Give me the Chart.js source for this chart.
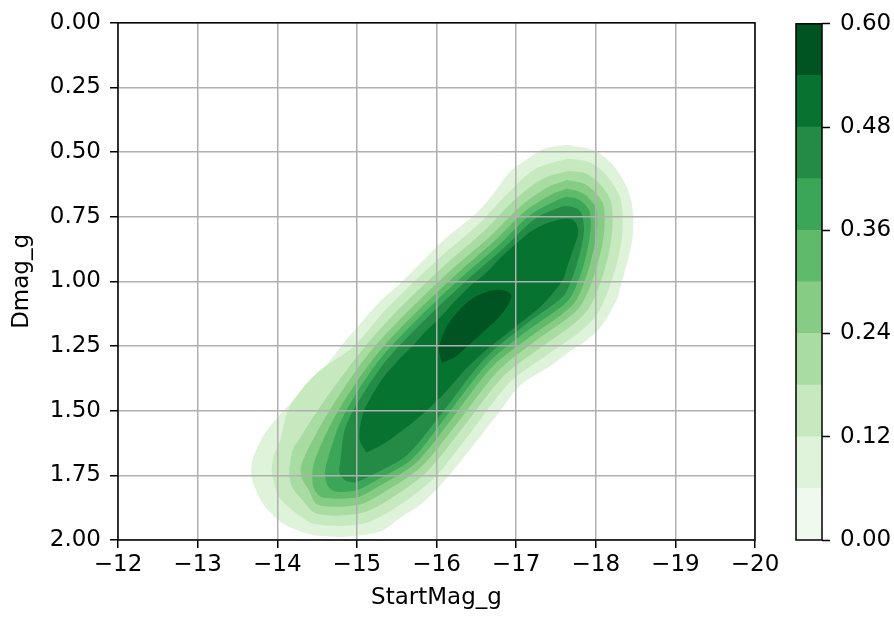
<!DOCTYPE html>
<html>
<head>
<meta charset="utf-8">
<script src="https://cdn.jsdelivr.net/npm/chart.js@4.4.1/dist/chart.umd.min.js"></script>
<style>
  html, body { margin: 0; padding: 0; background: #fff; }
  #wrap { position: relative; width: 894px; height: 618px; }
  #main { position: absolute; left: 0; top: 0; width: 894px; height: 618px; }
  #bar { position: absolute; left: 780px; top: 0; width: 114px; height: 618px; }
</style>
</head>
<body>
<div id="wrap">
  <canvas id="main" width="894" height="618"></canvas>
  <canvas id="bar" width="114" height="618"></canvas>
</div>
<script>
// axis ticks
const xTickValues = [-12, -13, -14, -15, -16, -17, -18, -19, -20];
const xTickLabels = ['\u221212', '\u221213', '\u221214', '\u221215', '\u221216', '\u221217', '\u221218', '\u221219', '\u221220'];
const yTickValues = [0, 0.25, 0.5, 0.75, 1, 1.25, 1.5, 1.75, 2];
const yTickLabels = ['0.00', '0.25', '0.50', '0.75', '1.00', '1.25', '1.50', '1.75', '2.00'];
const cbTickValues = [0, 0.12, 0.24, 0.36, 0.48, 0.60];
const cbTickLabels = ['0.00', '0.12', '0.24', '0.36', '0.48', '0.60'];

// contour levels (density) and the Greens colour of each band
const levelBounds = [0, 0.06, 0.12, 0.18, 0.24, 0.30, 0.36, 0.42, 0.48, 0.54, 0.60];
const bandColors = ['#f0f9ed', '#dff3da', '#c7e9c0', '#a9dca2', '#86cc85', '#60ba6c', '#3ba558', '#238b45', '#077331', '#005422'];

// filled contour outlines, [StartMag_g, Dmag_g]
const contour006 = [[-17.65,0.473],[-17.97,0.492],[-18.18,0.538],[-18.34,0.604],[-18.44,0.681],[-18.47,0.758],[-18.46,0.835],[-18.41,0.912],[-18.34,0.988],[-18.27,1.065],[-18.14,1.142],[-18.02,1.192],[-17.87,1.231],[-17.68,1.269],[-17.43,1.327],[-17.18,1.373],[-17.01,1.415],[-16.80,1.500],[-16.51,1.615],[-16.26,1.712],[-16.05,1.788],[-15.79,1.865],[-15.54,1.915],[-15.33,1.962],[-15.08,1.981],[-14.79,1.988],[-14.45,1.981],[-14.25,1.962],[-14.07,1.935],[-13.85,1.873],[-13.75,1.819],[-13.68,1.762],[-13.68,1.704],[-13.75,1.642],[-13.85,1.585],[-14.00,1.527],[-14.16,1.473],[-14.37,1.404],[-14.56,1.346],[-14.85,1.231],[-15.07,1.154],[-15.29,1.077],[-15.57,1.000],[-15.94,0.885],[-16.17,0.819],[-16.45,0.750],[-16.60,0.704],[-16.76,0.642],[-16.92,0.577],[-17.14,0.527],[-17.34,0.488],[-17.49,0.477]];
const contour012 = [[-17.65,0.525],[-17.91,0.538],[-18.08,0.572],[-18.22,0.625],[-18.32,0.690],[-18.33,0.830],[-18.22,0.978],[-18.03,1.121],[-17.79,1.198],[-17.35,1.293],[-16.92,1.390],[-16.41,1.592],[-15.96,1.763],[-15.46,1.880],[-15.06,1.938],[-14.47,1.938],[-14.19,1.885],[-14.01,1.830],[-13.97,1.788],[-13.93,1.731],[-13.96,1.670],[-14.03,1.621],[-14.15,1.489],[-14.48,1.359],[-14.95,1.254],[-15.38,1.103],[-16.03,0.911],[-16.53,0.778],[-16.87,0.667],[-17.23,0.567]];
const contour018 = [[-17.65,0.573],[-17.85,0.580],[-17.98,0.603],[-18.11,0.645],[-18.20,0.700],[-18.20,0.825],[-18.10,0.967],[-17.92,1.102],[-17.71,1.168],[-17.28,1.262],[-16.84,1.367],[-16.32,1.570],[-15.87,1.739],[-15.39,1.846],[-15.03,1.898],[-14.49,1.898],[-14.30,1.840],[-14.18,1.790],[-14.15,1.731],[-14.17,1.690],[-14.19,1.655],[-14.29,1.603],[-14.58,1.466],[-15.04,1.276],[-15.46,1.128],[-16.11,0.936],[-16.60,0.804],[-16.96,0.691],[-17.32,0.605]];
const contour024 = [[-17.64,0.608],[-17.79,0.617],[-17.89,0.629],[-18.01,0.662],[-18.10,0.707],[-18.10,0.822],[-18.00,0.959],[-17.83,1.085],[-17.65,1.142],[-17.22,1.235],[-16.77,1.347],[-16.25,1.552],[-15.80,1.719],[-15.33,1.817],[-15.02,1.864],[-14.51,1.864],[-14.39,1.804],[-14.31,1.762],[-14.30,1.715],[-14.41,1.635],[-14.67,1.492],[-15.11,1.294],[-15.53,1.150],[-16.18,0.957],[-16.67,0.827],[-17.05,0.711],[-17.39,0.637]];
const contour030 = [[-17.64,0.642],[-17.77,0.650],[-17.87,0.665],[-17.94,0.688],[-18.01,0.719],[-18.01,0.818],[-17.91,0.952],[-17.76,1.071],[-17.60,1.121],[-17.18,1.213],[-16.70,1.330],[-16.18,1.536],[-15.74,1.702],[-15.27,1.793],[-15.00,1.835],[-14.56,1.835],[-14.46,1.800],[-14.44,1.754],[-14.47,1.692],[-14.74,1.514],[-15.18,1.310],[-15.59,1.167],[-16.24,0.975],[-16.72,0.846],[-17.12,0.727],[-17.45,0.663]];
const contour036 = [[-17.63,0.673],[-17.77,0.681],[-17.87,0.704],[-17.93,0.738],[-17.93,0.815],[-17.84,0.945],[-17.69,1.058],[-17.55,1.102],[-17.13,1.193],[-16.65,1.315],[-16.12,1.522],[-15.69,1.687],[-15.23,1.772],[-14.99,1.808],[-14.73,1.812],[-14.63,1.788],[-14.60,1.742],[-14.63,1.692],[-14.81,1.533],[-15.23,1.324],[-15.64,1.183],[-16.29,0.991],[-16.77,0.863],[-17.18,0.742],[-17.50,0.688]];
const contour042 = [[-17.64,0.708],[-17.77,0.719],[-17.83,0.746],[-17.85,0.812],[-17.76,0.938],[-17.62,1.046],[-17.50,1.082],[-17.09,1.173],[-16.60,1.300],[-16.07,1.508],[-15.63,1.671],[-15.18,1.750],[-14.98,1.777],[-14.85,1.769],[-14.78,1.738],[-14.79,1.700],[-14.87,1.552],[-15.29,1.338],[-15.69,1.199],[-16.34,1.007],[-16.82,0.879],[-17.24,0.757],[-17.56,0.712]];
const contour048 = [[-15.12,1.662],[-15.04,1.619],[-15.04,1.562],[-15.09,1.500],[-15.18,1.446],[-15.33,1.373],[-15.51,1.308],[-15.71,1.246],[-15.87,1.192],[-16.06,1.135],[-16.23,1.077],[-16.42,1.019],[-16.64,0.962],[-16.82,0.904],[-17.03,0.846],[-17.18,0.808],[-17.34,0.781],[-17.49,0.765],[-17.64,0.758],[-17.74,0.769],[-17.78,0.812],[-17.72,0.873],[-17.65,0.935],[-17.59,0.992],[-17.46,1.046],[-17.30,1.100],[-17.08,1.154],[-16.84,1.212],[-16.61,1.269],[-16.37,1.338],[-16.15,1.415],[-15.94,1.481],[-15.73,1.538],[-15.52,1.588],[-15.32,1.631]];
const contour054 = [[-16.07,1.315],[-16.03,1.269],[-16.06,1.223],[-16.13,1.173],[-16.25,1.123],[-16.37,1.085],[-16.52,1.054],[-16.70,1.035],[-16.86,1.035],[-16.94,1.054],[-16.89,1.096],[-16.76,1.146],[-16.60,1.192],[-16.42,1.242],[-16.25,1.288]];

const contours = [contour006, contour012, contour018, contour024, contour030, contour036, contour042, contour048, contour054];

const FONT = 'DejaVu Sans';
Chart.defaults.font.family = FONT;
Chart.defaults.font.size = 23;
Chart.defaults.color = '#000';

// box around the plotting area (matplotlib spines)
const frame = {
    id: 'frame',
    afterDraw(chart) {
        const {ctx, chartArea: a} = chart;
        ctx.save();
        ctx.strokeStyle = '#000';
        ctx.lineWidth = 1.5;
        ctx.strokeRect(a.left, a.top, a.right - a.left, a.bottom - a.top);
        ctx.restore();
    }
};

const contourSets = contours.map((pts, i) => ({
    data: pts.concat([pts[0]]).map(p => ({x: p[0], y: p[1]})),
    showLine: true,
    fill: 'shape',
    backgroundColor: bandColors[i + 1],
    borderColor: 'rgba(0,0,0,0)',
    borderWidth: 0,
    pointRadius: 0,
    tension: 0.3,
    order: contours.length - i
}));

new Chart(document.getElementById('main'), {
    type: 'scatter',
    data: { datasets: contourSets },
    plugins: [frame],
    options: {
        responsive: false,
        animation: false,
        devicePixelRatio: 1,
        layout: { padding: { left: 0, right: 139, top: 20, bottom: 0 } },
        plugins: { legend: { display: false }, tooltip: { enabled: false } },
        scales: {
            x: {
                type: 'linear', min: -20, max: -12, reverse: true,
                afterBuildTicks: s => { s.ticks = xTickValues.map(v => ({ value: v })); },
                afterFit: s => { s.height = 78; },
                ticks: { callback: v => xTickLabels[xTickValues.indexOf(v)], padding: 3, maxRotation: 0, autoSkip: false },
                grid: { color: '#b0b0b0', lineWidth: 1.5, z: 1, tickColor: '#000', tickLength: 8, tickWidth: 1.5 },
                border: { display: false },
                title: { display: true, text: 'StartMag_g', padding: { top: 0, bottom: 6 } }
            },
            y: {
                type: 'linear', min: 0, max: 2, reverse: true,
                afterBuildTicks: s => { s.ticks = yTickValues.map(v => ({ value: v })); },
                afterFit: s => { s.width = 118; },
                ticks: { callback: v => yTickLabels[yTickValues.indexOf(v)], padding: 9, autoSkip: false },
                grid: { color: '#b0b0b0', lineWidth: 1.5, z: 1, tickColor: '#000', tickLength: 8, tickWidth: 1.5 },
                border: { display: false },
                title: { display: true, text: 'Dmag_g', padding: { top: 8, bottom: 0 } }
            }
        }
    }
});

// colour bar: one floating bar per band
new Chart(document.getElementById('bar'), {
    type: 'bar',
    data: {
        labels: [''],
        datasets: bandColors.map((c, i) => ({
            data: [[levelBounds[i], levelBounds[i + 1]]],
            backgroundColor: c,
            borderWidth: 0,
            grouped: false,
            barPercentage: 1,
            categoryPercentage: 1
        }))
    },
    plugins: [frame],
    options: {
        responsive: false,
        animation: false,
        devicePixelRatio: 1,
        layout: { padding: { left: 16, right: 0, top: 20, bottom: 78 } },
        plugins: { legend: { display: false }, tooltip: { enabled: false } },
        scales: {
            x: { display: false },
            y: {
                position: 'right', min: 0, max: 0.6,
                afterBuildTicks: s => { s.ticks = cbTickValues.map(v => ({ value: v })); },
                afterFit: s => { s.width = 72; },
                ticks: { callback: v => cbTickLabels[cbTickValues.indexOf(v)], padding: 10, autoSkip: false },
                grid: { drawOnChartArea: false, tickColor: '#000', tickLength: 8, tickWidth: 1.5 },
                border: { display: false }
            }
        }
    }
});
</script>
</body>
</html>
